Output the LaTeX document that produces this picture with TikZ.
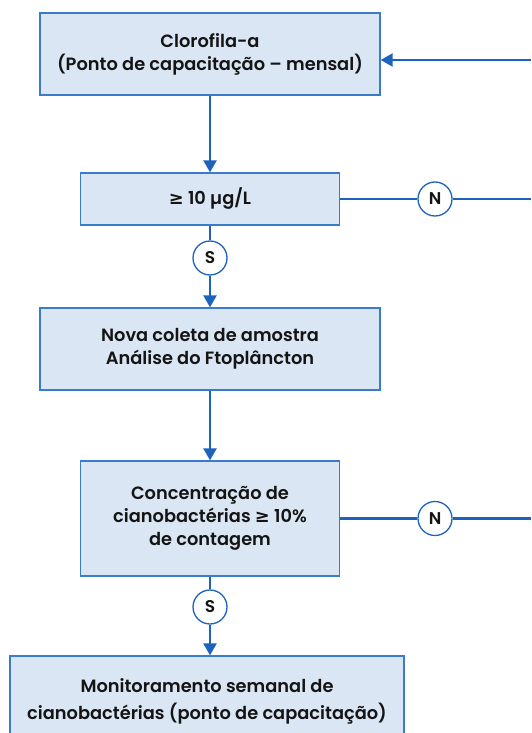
\documentclass[tikz,border=0pt]{standalone}
\usepackage{fontspec}
\setmainfont{Poppins SemiBold}
\newfontfamily\symfont{DejaVu Sans Bold}
\usetikzlibrary{arrows.meta}
\definecolor{boxfill}{HTML}{DAE6F3}
\definecolor{boxline}{HTML}{3A7CCB}
\definecolor{flow}{HTML}{1D62BD}
\definecolor{txt}{HTML}{141414}
\newcommand{\mygeq}{{\symfont\char"2265}}
\tikzset{
  box/.style={draw=boxline, line width=1.3pt, fill=boxfill, align=center, text=txt, font=\fontsize{17.8}{23}\selectfont, inner sep=0pt},
  yn/.style={circle, draw=flow, line width=1.3pt, fill=white, minimum size=34pt, inner sep=0pt, text=txt, font=\fontsize{17}{18}\selectfont},
  flowline/.style={draw=flow, line width=2.4pt},
  arr/.style={flowline, -{Triangle[width=13pt,length=12pt]}}
}
\begin{document}
\begin{tikzpicture}[x=1pt,y=-1pt]
\useasboundingbox (0,0) rectangle (531,733);
\node[box, minimum width=340pt, minimum height=82pt] (b1) at (210,54) {Clorofila-a\\(Ponto de capacitação – mensal)};
\node[box, minimum width=259pt, minimum height=52pt] (b2) at (210,199) {\mygeq{} 10 µg/L};
\node[yn] (s1) at (210,258) {S};
\node[yn] (n1) at (435,199) {N};
\node[box, minimum width=340pt, minimum height=82pt] (b3) at (210,349) {Nova coleta de amostra\\Análise do Ftoplâncton};
\node[box, minimum width=259pt, minimum height=115pt] (b4) at (210,518.5) {Concentração de\\cianobactérias \mygeq{} 10\%\\de contagem};
\node[yn] (s2) at (210,607) {S};
\node[yn] (n2) at (435,518.5) {N};
\node[box, minimum width=394pt, minimum height=110pt] (b5) at (207,711) {};
\node[align=center, text=txt, font=\fontsize{17.8}{27}\selectfont] (t5) at (207,701) {Monitoramento semanal de\\cianobactérias (ponto de capacitação)};
\coordinate (r1) at (531,60);
\coordinate (r2) at (531,199);
\coordinate (r3) at (531,518.5);
\draw[arr] (r1) -- (b1.east |- r1);
\draw[arr] (b1) -- (b2);
\draw[flowline] (b2.east) -- (n1);
\draw[flowline] (n1) -- (r2);
\draw[flowline] (b2) -- (s1);
\draw[arr] (s1) -- (b3);
\draw[arr] (b3) -- (b4);
\draw[flowline] (b4.east) -- (n2);
\draw[flowline] (n2) -- (r3);
\draw[flowline] (b4) -- (s2);
\draw[arr] (s2) -- (s2 |- b5.north);
\end{tikzpicture}
\end{document}
